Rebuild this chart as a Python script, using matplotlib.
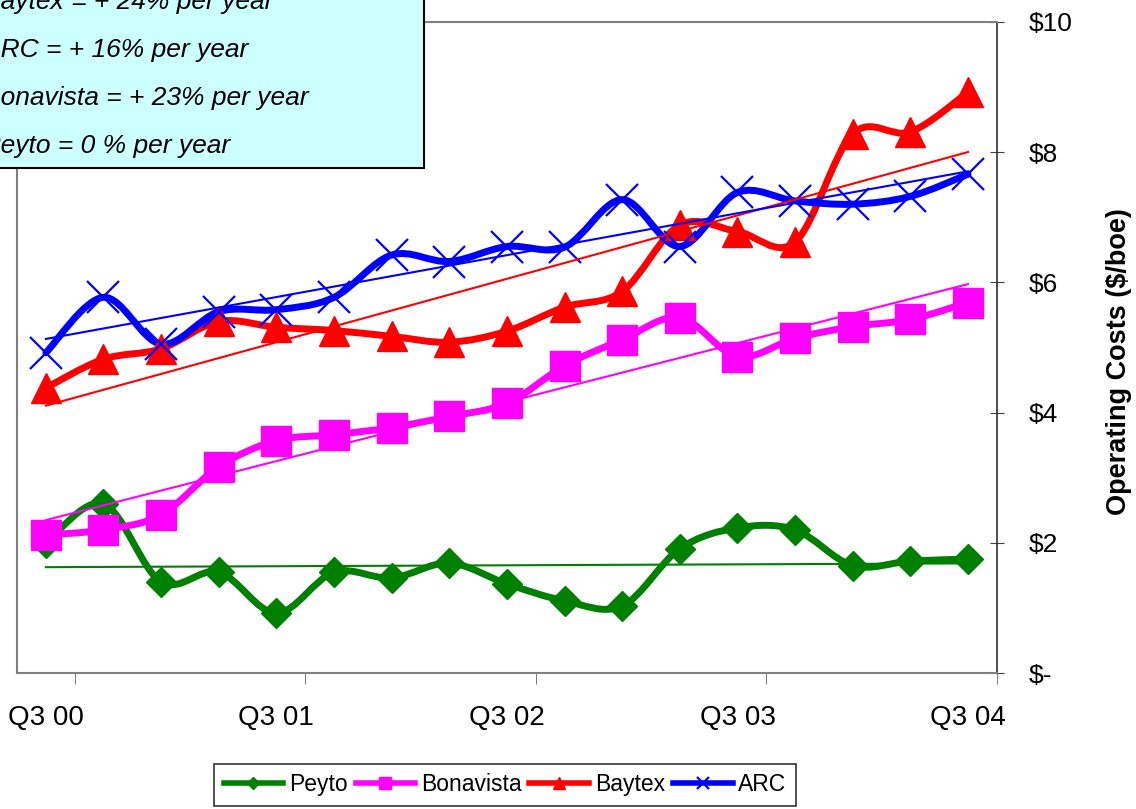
import numpy as np
import matplotlib
matplotlib.use("Agg")
import matplotlib.pyplot as plt
from matplotlib.path import Path
from matplotlib.patches import PathPatch, Rectangle
from matplotlib.lines import Line2D

plt.rcParams['font.family'] = ['Liberation Sans', 'DejaVu Sans']

# quarterly operating costs, Q3 2000 .. Q3 2004 ($/boe)
quarters = np.arange(17)
x_labels = ['Q3 00', 'Q3 01', 'Q3 02', 'Q3 03', 'Q3 04']
peyto = [2.00, 2.60, 1.40, 1.55, 0.92, 1.55, 1.46, 1.69, 1.37, 1.11, 1.03, 1.91, 2.23, 2.20, 1.65, 1.72, 1.75]
bonavista = [2.12, 2.20, 2.43, 3.17, 3.57, 3.66, 3.77, 3.94, 4.14, 4.72, 5.12, 5.46, 4.86, 5.14, 5.32, 5.43, 5.69]
baytex = [4.38, 4.82, 4.98, 5.40, 5.31, 5.26, 5.17, 5.08, 5.25, 5.62, 5.86, 6.88, 6.78, 6.62, 8.28, 8.31, 8.92]
arc = [4.92, 5.77, 5.05, 5.55, 5.58, 5.77, 6.42, 6.32, 6.55, 6.54, 7.27, 6.55, 7.38, 7.25, 7.20, 7.32, 7.66]
growth_notes = ['Baytex = + 24% per year', 'ARC = + 16% per year',
                'Bonavista = + 23% per year', 'Peyto = 0 % per year']
y_ticks = [0, 2, 4, 6, 8, 10]
y_ticklabels = ['$-', '$2', '$4', '$6', '$8', '$10']


def smooth_path(x, y):
    # Excel-style smoothed line: cubic bezier through every point
    pts = np.column_stack([x, y]).astype(float)
    n = len(pts)
    verts = [pts[0]]
    codes = [Path.MOVETO]
    for i in range(n - 1):
        p0 = pts[max(i - 1, 0)]
        p1 = pts[i]
        p2 = pts[i + 1]
        p3 = pts[min(i + 2, n - 1)]
        verts += [p1 + (p2 - p0) / 6, p2 - (p3 - p1) / 6, p2]
        codes += [Path.CURVE4] * 3
    return Path(verts, codes)


fig = plt.figure(figsize=(11.36, 8.09), dpi=100)
ax = fig.add_axes([0.015, 0.168, 0.8625, 0.805])

series = [
    ('Peyto', peyto, '#008000', 'D', 15, 1),
    ('Bonavista', bonavista, '#FF00FF', 's', 21, 1),
    ('Baytex', baytex, '#FF0000', '^', 22, 1),
    ('ARC', arc, '#0000FF', 'x', 23, 1.6),
]

handles = []
for name, vals, col, mk, ms, mew in series:
    patch = PathPatch(smooth_path(quarters, vals), fill=False, edgecolor=col,
                      lw=5, capstyle='round', joinstyle='round')
    ax.add_patch(patch)
    ax.plot(quarters, vals, ls='none', marker=mk, ms=ms, color=col, mew=mew)
    handles.append(Line2D([], [], color=col, lw=4, marker=mk,
                          ms=8 if mk != 'D' else 6, mew=mew))

# linear trend lines
for name, vals, col, mk, ms, mew in series:
    k, b = np.polyfit(quarters, vals, 1)
    ax.plot(quarters, k * quarters + b, color=col, lw=1.5)

ax.set_xlim(-0.5, 16.5)
ax.set_ylim(0, 10)

ax.set_xticks(quarters[::4])
ax.set_xticklabels(x_labels, fontsize=20)
ax.set_xticks(np.arange(0.5, 17, 4), minor=True)
ax.tick_params(axis='x', which='major', length=0, pad=23)
ax.tick_params(axis='x', which='minor', length=8, direction='out', color='#606060')

ax.yaxis.tick_right()
ax.set_yticks(y_ticks)
ax.set_yticklabels(y_ticklabels, fontsize=19)
ax.tick_params(axis='y', length=10, direction='inout', pad=18, color='#404040')
fig.text(1119 / 1136, 1 - 362 / 809, 'Operating Costs ($/boe)', fontsize=19.5,
         fontweight='bold', rotation=90, ha='center', va='center')

for s in ['left', 'top', 'bottom']:
    ax.spines[s].set_color('#808080')
    ax.spines[s].set_linewidth(1.5)
ax.spines['right'].set_color('#303030')
ax.spines['right'].set_linewidth(1.2)

# growth rate box, partly off the top-left corner
fig.patches.append(Rectangle((-0.02, 0.7925), 0.3932, 0.25, transform=fig.transFigure,
                             facecolor='#CCFFFF', edgecolor='black', lw=1.5, zorder=5))
for i, line in enumerate(growth_notes):
    fig.text(-0.015, 1 - (9 + 48 * i) / 809, line, fontsize=19, style='italic',
             va='baseline', ha='left', zorder=6)

leg = fig.legend(handles, [s[0] for s in series], loc='center',
                 bbox_to_anchor=(0.4445, 0.0297), ncol=4, fontsize=16.5,
                 frameon=True, fancybox=False, edgecolor='black',
                 handlelength=2.6, handletextpad=0.25, columnspacing=0.35,
                 borderpad=0.4)
leg.get_frame().set_linewidth(1.2)

fig.savefig('out.png', dpi=100)
